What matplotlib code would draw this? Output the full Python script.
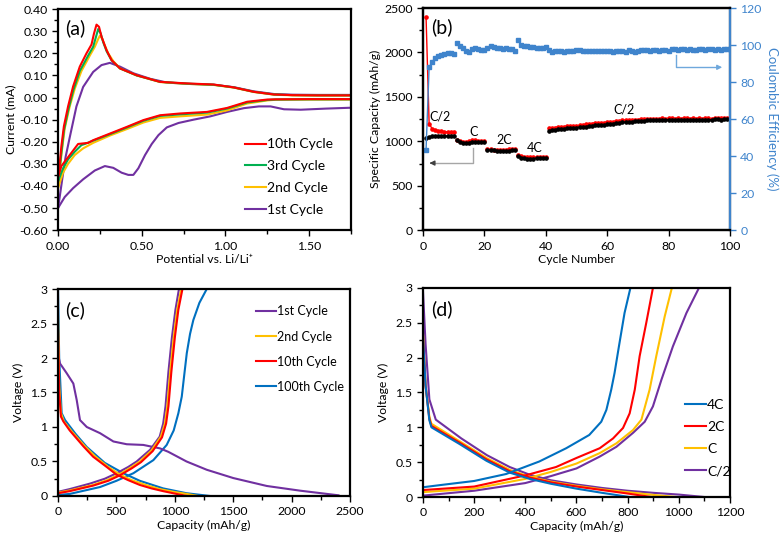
import numpy as np
import matplotlib
matplotlib.use('Agg')
import matplotlib.pyplot as plt
from matplotlib.ticker import MultipleLocator, FormatStrFormatter

plt.rcParams['font.family'] = ['Lato', 'DejaVu Sans']
plt.rcParams['axes.unicode_minus'] = False
plt.rcParams['font.size'] = 8

RED = '#FF0000'
GREEN = '#00B050'
YELLOW = '#FFC000'
PURPLE = '#7030A0'
BLUE = '#0070C0'
CEBLUE = '#3F84CC'

# ---------------- (a) cyclic voltammetry ----------------
cv10_up_x = [0, 0.01, 0.02, 0.035, 0.06, 0.09, 0.13, 0.17, 0.20, 0.215, 0.23, 0.245, 0.26, 0.29, 0.32, 0.37, 0.47, 0.61, 0.77, 0.93, 1.05, 1.17, 1.29, 1.40, 1.55, 1.75]
cv10_up_y = [-0.36, -0.30, -0.22, -0.13, -0.04, 0.05, 0.14, 0.20, 0.24, 0.29, 0.33, 0.32, 0.275, 0.214, 0.169, 0.132, 0.101, 0.071, 0.064, 0.059, 0.046, 0.026, 0.014, 0.011, 0.010, 0.010]
cv10_dn_x = [1.75, 1.5, 1.30, 1.25, 1.13, 1.01, 0.89, 0.73, 0.61, 0.51, 0.41, 0.31, 0.21, 0.18, 0.12, 0.08, 0.04, 0.02, 0.0]
cv10_dn_y = [-0.007, -0.007, -0.008, -0.009, -0.019, -0.047, -0.065, -0.072, -0.08, -0.102, -0.133, -0.163, -0.193, -0.205, -0.21, -0.25, -0.29, -0.31, -0.36]

cv3_up_x = [0, 0.01, 0.02, 0.035, 0.06, 0.09, 0.13, 0.18, 0.21, 0.225, 0.24, 0.255, 0.27, 0.29, 0.32, 0.37, 0.47, 0.61, 0.77, 0.93, 1.05, 1.17, 1.29, 1.40, 1.55, 1.75]
cv3_up_y = [-0.38, -0.32, -0.25, -0.15, -0.06, 0.03, 0.12, 0.19, 0.23, 0.27, 0.31, 0.29, 0.25, 0.21, 0.168, 0.132, 0.10, 0.071, 0.063, 0.058, 0.046, 0.026, 0.014, 0.011, 0.010, 0.010]
cv3_dn_x = [1.75, 1.5, 1.30, 1.25, 1.13, 1.01, 0.89, 0.73, 0.61, 0.51, 0.41, 0.31, 0.21, 0.16, 0.14, 0.10, 0.06, 0.03, 0.0]
cv3_dn_y = [-0.008, -0.008, -0.009, -0.011, -0.022, -0.05, -0.068, -0.076, -0.083, -0.105, -0.136, -0.166, -0.195, -0.21, -0.215, -0.245, -0.28, -0.32, -0.38]

cv2_up_x = [0, 0.01, 0.02, 0.04, 0.07, 0.10, 0.14, 0.19, 0.22, 0.24, 0.25, 0.265, 0.28, 0.30, 0.33, 0.37, 0.47, 0.61, 0.77, 0.93, 1.05, 1.17, 1.29, 1.40, 1.55, 1.75]
cv2_up_y = [-0.41, -0.34, -0.26, -0.14, -0.04, 0.04, 0.12, 0.19, 0.23, 0.265, 0.28, 0.265, 0.235, 0.20, 0.165, 0.132, 0.10, 0.07, 0.062, 0.057, 0.045, 0.025, 0.013, 0.010, 0.009, 0.009]
cv2_dn_x = [1.75, 1.5, 1.30, 1.25, 1.13, 1.01, 0.89, 0.73, 0.61, 0.51, 0.41, 0.31, 0.21, 0.15, 0.10, 0.06, 0.03, 0.0]
cv2_dn_y = [-0.009, -0.009, -0.01, -0.013, -0.027, -0.058, -0.077, -0.085, -0.092, -0.113, -0.143, -0.172, -0.205, -0.23, -0.26, -0.30, -0.34, -0.41]

cv1_up_x = [0, 0.01, 0.025, 0.045, 0.07, 0.09, 0.11, 0.15, 0.21, 0.26, 0.31, 0.37, 0.45, 0.55, 0.65, 0.77, 0.93, 1.05, 1.17, 1.29, 1.40, 1.55, 1.75]
cv1_up_y = [-0.50, -0.45, -0.37, -0.27, -0.18, -0.11, -0.04, 0.048, 0.116, 0.147, 0.157, 0.14, 0.11, 0.085, 0.068, 0.062, 0.058, 0.047, 0.028, 0.016, 0.013, 0.012, 0.012]
cv1_dn_x = [1.75, 1.6, 1.45, 1.35, 1.27, 1.2, 1.11, 1.01, 0.91, 0.81, 0.72, 0.65, 0.60, 0.56, 0.52, 0.48, 0.45, 0.42, 0.38, 0.33, 0.28, 0.22, 0.15, 0.09, 0.04, 0.0]
cv1_dn_y = [-0.046, -0.05, -0.055, -0.053, -0.04, -0.04, -0.048, -0.065, -0.085, -0.10, -0.115, -0.135, -0.17, -0.21, -0.26, -0.32, -0.35, -0.35, -0.34, -0.318, -0.31, -0.33, -0.37, -0.41, -0.45, -0.50]

# ---------------- (b) cycling ----------------
cycle = list(range(1, 101))
cap_dis = [2400, 1200, 1140, 1130, 1120, 1115, 1110, 1105, 1105, 1110,
           1020, 1000, 995, 990, 1000, 1010, 1015, 1005, 1000, 1000,
           915, 910, 905, 905, 905, 905, 905, 910, 910, 915,
           850, 830, 825, 820, 820, 820, 820, 820, 820, 825,
           1145, 1150, 1155, 1160, 1160, 1165, 1170, 1170, 1175, 1175,
           1180, 1185, 1190, 1195, 1200, 1205, 1205, 1210, 1210, 1215,
           1215, 1220, 1225, 1230, 1235, 1240, 1240, 1240, 1245, 1245,
           1250, 1250, 1250, 1250, 1255, 1255, 1255, 1260, 1255, 1260,
           1260, 1255, 1260, 1255, 1260, 1260, 1255, 1260, 1255, 1260,
           1255, 1260, 1260, 1255, 1265, 1265, 1260, 1265, 1265, 1265]
cap_chg = [1040, 1050, 1060, 1055, 1055, 1055, 1060, 1060, 1060, 1065,
           1010, 990, 985, 980, 985, 995, 995, 995, 990, 990,
           905, 900, 900, 895, 895, 895, 895, 895, 900, 905,
           835, 815, 810, 805, 805, 805, 810, 810, 810, 815,
           1120, 1125, 1130, 1135, 1140, 1140, 1145, 1150, 1150, 1155,
           1160, 1160, 1165, 1170, 1175, 1180, 1180, 1185, 1185, 1190,
           1195, 1200, 1205, 1210, 1215, 1215, 1220, 1220, 1225, 1225,
           1230, 1230, 1235, 1235, 1235, 1240, 1240, 1240, 1240, 1245,
           1245, 1240, 1245, 1245, 1240, 1245, 1240, 1245, 1240, 1245,
           1240, 1245, 1245, 1240, 1250, 1250, 1245, 1250, 1250, 1250]
ce = [43.5, 88, 91, 93, 94, 94.5, 95, 95.5, 95.5, 95,
      101, 99.5, 98.5, 97, 96.5, 98, 98.5, 98, 97.5, 97.5,
      98.5, 99.5, 99, 98.5, 98.5, 98, 98.5, 98, 98, 97,
      102.5, 100, 99.5, 99.5, 99, 99, 98.5, 98.5, 98.5, 99,
      97.5, 96.5, 97, 97, 97, 96.5, 97, 97, 97, 97.5,
      97.5, 97, 97, 97, 97, 97, 97, 97, 97, 97,
      97, 96.5, 97, 97, 97, 96.5, 97.5, 97, 96.5, 97,
      97.5, 97.5, 97.5, 97, 97.5, 97.5, 97, 97.5, 97.5, 97,
      98, 98, 97.5, 98, 98, 97.5, 98, 97.5, 97.5, 98,
      98, 97.5, 98, 98, 97.5, 98, 97.5, 98, 98, 98]
rate_segments = [(0, 10), (10, 20), (20, 30), (30, 40), (40, 100)]
rate_labels = ['C/2', 'C', '2C', '4C', 'C/2']
rate_label_pos = [(5.5, 1280), (16.4, 1105), (26.5, 1020), (36.5, 920), (65.5, 1360)]

# ---------------- (c) voltage profiles by cycle ----------------
c1_dis_cap = [0, 17, 74, 131, 160, 188, 246, 360, 474, 588, 730, 873, 944, 1100, 1273, 1500, 1787, 2072, 2400]
c1_dis_v = [2.05, 1.92, 1.78, 1.63, 1.39, 1.10, 1.0, 0.91, 0.79, 0.75, 0.74, 0.69, 0.64, 0.50, 0.38, 0.26, 0.145, 0.077, 0.01]
c1_chg_cap = [0, 100, 274, 400, 502, 600, 673, 788, 870, 900, 920, 945, 975, 1005, 1035]
c1_chg_v = [0.06, 0.10, 0.18, 0.25, 0.33, 0.42, 0.50, 0.67, 0.86, 1.05, 1.3, 1.8, 2.3, 2.7, 3.0]
c2_dis_cap = [0, 10, 25, 50, 120, 230, 320, 430, 530, 630, 750, 870, 990, 1100, 1200]
c2_dis_v = [2.6, 1.6, 1.2, 1.08, 0.93, 0.72, 0.57, 0.42, 0.31, 0.23, 0.16, 0.10, 0.06, 0.03, 0.0]
c2_chg_cap = [0, 100, 300, 420, 520, 620, 700, 800, 880, 915, 935, 960, 990, 1020, 1055]
c2_chg_v = [0.05, 0.08, 0.16, 0.23, 0.31, 0.41, 0.50, 0.66, 0.86, 1.05, 1.3, 1.8, 2.3, 2.7, 3.0]
c10_dis_cap = [0, 10, 25, 46, 100, 217, 300, 417, 500, 600, 700, 800, 900, 1000, 1100]
c10_dis_v = [2.4, 1.5, 1.15, 1.08, 0.95, 0.72, 0.57, 0.42, 0.31, 0.23, 0.16, 0.11, 0.07, 0.035, 0.0]
c10_chg_cap = [0, 100, 300, 430, 530, 630, 710, 810, 890, 925, 945, 970, 1000, 1030, 1065]
c10_chg_v = [0.04, 0.07, 0.15, 0.22, 0.30, 0.40, 0.49, 0.65, 0.85, 1.05, 1.3, 1.8, 2.3, 2.7, 3.0]
c100_dis_cap = [0, 10, 31, 60, 150, 246, 400, 559, 700, 900, 1100, 1300]
c100_dis_v = [3.0, 2.0, 1.2, 1.10, 0.90, 0.71, 0.48, 0.33, 0.22, 0.11, 0.04, 0.0]
c100_chg_cap = [0, 100, 360, 500, 645, 816, 930, 990, 1030, 1059, 1080, 1102, 1130, 1158, 1210, 1273]
c100_chg_v = [0.015, 0.03, 0.13, 0.22, 0.33, 0.52, 0.74, 0.95, 1.2, 1.44, 1.75, 2.07, 2.35, 2.55, 2.8, 3.0]

# ---------------- (d) voltage profiles by rate ----------------
r4_dis_cap = [0, 10, 25, 33, 143, 248, 339, 417, 500, 600, 700, 808]
r4_dis_v = [2.3, 1.6, 1.1, 1.0, 0.76, 0.52, 0.35, 0.26, 0.19, 0.12, 0.06, 0.0]
r4_chg_cap = [0, 65, 200, 325, 455, 560, 650, 697, 717, 736, 749, 766, 788, 811]
r4_chg_v = [0.14, 0.17, 0.23, 0.33, 0.51, 0.70, 0.89, 1.08, 1.25, 1.54, 1.78, 2.16, 2.64, 3.0]
r2_dis_cap = [0, 10, 25, 33, 143, 248, 339, 417, 500, 600, 700, 800, 893]
r2_dis_v = [2.3, 1.6, 1.12, 1.02, 0.78, 0.54, 0.37, 0.28, 0.21, 0.15, 0.10, 0.05, 0.0]
r2_chg_cap = [0, 200, 400, 520, 600, 691, 743, 782, 808, 828, 847, 873, 899]
r2_chg_v = [0.10, 0.15, 0.31, 0.43, 0.56, 0.70, 0.84, 0.99, 1.2, 1.54, 2.02, 2.5, 3.0]
r1_dis_cap = [0, 10, 25, 33, 143, 248, 339, 417, 500, 600, 700, 800, 900, 990]
r1_dis_v = [2.35, 1.6, 1.15, 1.05, 0.80, 0.56, 0.39, 0.29, 0.22, 0.16, 0.11, 0.07, 0.03, 0.0]
r1_chg_cap = [0, 200, 400, 500, 600, 691, 756, 821, 854, 886, 912, 945, 973]
r1_chg_v = [0.07, 0.12, 0.26, 0.36, 0.48, 0.63, 0.77, 0.96, 1.11, 1.54, 2.02, 2.59, 3.0]
rh_dis_cap = [0, 10, 25, 50, 150, 250, 339, 417, 500, 600, 700, 800, 900, 1000, 1100]
rh_dis_v = [2.95, 2.2, 1.4, 1.11, 0.84, 0.60, 0.43, 0.32, 0.24, 0.18, 0.13, 0.09, 0.06, 0.035, 0.0]
rh_chg_cap = [0, 200, 400, 500, 600, 691, 756, 821, 867, 899, 932, 977, 1030, 1079]
rh_chg_v = [0.02, 0.09, 0.20, 0.30, 0.41, 0.58, 0.72, 0.92, 1.08, 1.3, 1.68, 2.16, 2.64, 3.0]


fig = plt.figure(figsize=(7.81, 5.39), dpi=100)

TICK = 8.8
LAB = 8.8


def frame(ax, lw=1.6):
    for s in ax.spines.values():
        s.set_linewidth(lw)
        s.set_color('black')
    ax.tick_params(which='major', direction='out', length=4, width=1, labelsize=TICK)
    ax.tick_params(which='minor', direction='out', length=3, width=1)


# (a)
axA = fig.add_axes([0.0743, 0.573, 0.375, 0.410])
lw = 1.5
axA.plot(cv1_up_x, cv1_up_y, color=PURPLE, lw=lw)
axA.plot(cv1_dn_x, cv1_dn_y, color=PURPLE, lw=lw)
axA.plot(cv2_up_x, cv2_up_y, color=YELLOW, lw=lw)
axA.plot(cv2_dn_x, cv2_dn_y, color=YELLOW, lw=lw)
axA.plot(cv3_up_x, cv3_up_y, color=GREEN, lw=lw)
axA.plot(cv3_dn_x, cv3_dn_y, color=GREEN, lw=lw)
axA.plot(cv10_up_x, cv10_up_y, color=RED, lw=lw)
axA.plot(cv10_dn_x, cv10_dn_y, color=RED, lw=lw)
hA = [plt.Line2D([], [], color=c, lw=lw) for c in [RED, GREEN, YELLOW, PURPLE]]
axA.legend(hA, ['10th Cycle', '3rd Cycle', '2nd Cycle', '1st Cycle'], frameon=False,
           fontsize=10, loc='upper left', bbox_to_anchor=(0.62, 0.44), handlelength=1.5,
           handletextpad=0.1, labelspacing=0.7, borderaxespad=0)
axA.set_xlim(0, 1.75)
axA.set_ylim(-0.6, 0.4)
axA.xaxis.set_major_locator(MultipleLocator(0.5))
axA.xaxis.set_minor_locator(MultipleLocator(0.25))
axA.yaxis.set_major_locator(MultipleLocator(0.1))
axA.yaxis.set_minor_locator(MultipleLocator(0.05))
axA.xaxis.set_major_formatter(FormatStrFormatter('%.2f'))
axA.yaxis.set_major_formatter(FormatStrFormatter('%.2f'))
axA.set_xlabel('Potential vs. Li/Li\u207a', fontsize=LAB, labelpad=2)
axA.set_ylabel('Current (mA)', fontsize=LAB, labelpad=2)
axA.text(0.025, 0.915, '(a)', transform=axA.transAxes, fontsize=14, va='center')
frame(axA)

# (b)
axB = fig.add_axes([0.5416, 0.573, 0.393, 0.412])
axB2 = axB.twinx()
for s0, s1 in rate_segments:
    axB.plot(cycle[s0:s1], cap_dis[s0:s1], color=RED, marker='o', ms=2.3, lw=1, zorder=3)
    axB.plot(cycle[s0:s1], cap_chg[s0:s1], color='black', marker='o', ms=2.3, lw=1, zorder=4)
    axB2.plot(cycle[s0:s1], ce[s0:s1], color=CEBLUE, marker='s', ms=2.3, lw=1)
for lab, (px, py) in zip(rate_labels, rate_label_pos):
    axB.text(px, py, lab, ha='center', va='center', fontsize=9)
# arrows
axB.plot([16.2, 16.2, 3.5], [925, 755, 755], color='#A6A6A6', lw=1)
axB.annotate('', xy=(1.2, 755), xytext=(4, 755),
             arrowprops=dict(arrowstyle='-|>', color='#404040', lw=1, mutation_scale=7))
axB2.plot([82.4, 82.4, 95.5], [94.5, 88, 88], color='#6FA8DC', lw=1)
axB2.annotate('', xy=(98.4, 88), xytext=(95, 88),
              arrowprops=dict(arrowstyle='-|>', color='#6FA8DC', lw=1, mutation_scale=7))
axB.set_xlim(0, 100)
axB.set_ylim(0, 2500)
axB2.set_ylim(0, 120)
axB.xaxis.set_major_locator(MultipleLocator(20))
axB.yaxis.set_major_locator(MultipleLocator(500))
axB.yaxis.set_minor_locator(MultipleLocator(250))
axB2.yaxis.set_major_locator(MultipleLocator(20))
axB.set_xlabel('Cycle Number', fontsize=LAB, labelpad=2)
axB.set_ylabel('Specific Capacity (mAh/g)', fontsize=LAB, labelpad=2)
axB2.set_ylabel('Coulombic Efficiency (%)', fontsize=9.5, color=CEBLUE, rotation=270, labelpad=12)
axB.text(0.025, 0.915, '(b)', transform=axB.transAxes, fontsize=14, va='center')
frame(axB)
frame(axB2)
axB2.spines['right'].set_color(CEBLUE)
axB2.tick_params(axis='y', colors=CEBLUE, labelsize=TICK)
axB2.tick_params(axis='y', labelcolor=CEBLUE)

# (c)
axC = fig.add_axes([0.0743, 0.0798, 0.374, 0.384])
axC.plot(c100_dis_cap, c100_dis_v, color=BLUE, lw=lw)
axC.plot(c100_chg_cap, c100_chg_v, color=BLUE, lw=lw)
axC.plot(c1_dis_cap, c1_dis_v, color=PURPLE, lw=lw)
axC.plot(c1_chg_cap, c1_chg_v, color=PURPLE, lw=lw)
axC.plot(c2_dis_cap, c2_dis_v, color=YELLOW, lw=lw)
axC.plot(c2_chg_cap, c2_chg_v, color=YELLOW, lw=lw)
axC.plot(c10_dis_cap, c10_dis_v, color=RED, lw=lw)
axC.plot(c10_chg_cap, c10_chg_v, color=RED, lw=lw)
hC = [plt.Line2D([], [], color=c, lw=lw) for c in [PURPLE, YELLOW, RED, BLUE]]
axC.legend(hC, ['1st Cycle', '2nd Cycle', '10th Cycle', '100th Cycle'], frameon=False,
           fontsize=9, loc='upper left', bbox_to_anchor=(0.66, 0.945), handlelength=1.6,
           handletextpad=0.1, labelspacing=1.05, borderaxespad=0)
axC.set_xlim(0, 2500)
axC.set_ylim(0, 3)
axC.xaxis.set_major_locator(MultipleLocator(500))
axC.xaxis.set_minor_locator(MultipleLocator(250))
axC.yaxis.set_major_locator(MultipleLocator(0.5))
axC.yaxis.set_minor_locator(MultipleLocator(0.25))
axC.yaxis.set_major_formatter(plt.FuncFormatter(lambda v, p: '%g' % v))
axC.set_xlabel('Capacity (mAh/g)', fontsize=LAB, labelpad=2)
axC.set_ylabel('Voltage (V)', fontsize=LAB, labelpad=5)
axC.text(0.025, 0.9, '(c)', transform=axC.transAxes, fontsize=14, va='center')
frame(axC)

# (d)
axD = fig.add_axes([0.5416, 0.0779, 0.393, 0.388])
axD.plot(rh_dis_cap, rh_dis_v, color=PURPLE, lw=lw)
axD.plot(rh_chg_cap, rh_chg_v, color=PURPLE, lw=lw)
axD.plot(r1_dis_cap, r1_dis_v, color=YELLOW, lw=lw)
axD.plot(r1_chg_cap, r1_chg_v, color=YELLOW, lw=lw)
axD.plot(r2_dis_cap, r2_dis_v, color=RED, lw=lw)
axD.plot(r2_chg_cap, r2_chg_v, color=RED, lw=lw)
axD.plot(r4_dis_cap, r4_dis_v, color=BLUE, lw=lw)
axD.plot(r4_chg_cap, r4_chg_v, color=BLUE, lw=lw)
hD = [plt.Line2D([], [], color=c, lw=lw) for c in [BLUE, RED, YELLOW, PURPLE]]
axD.legend(hD, ['4C', '2C', 'C', 'C/2'], frameon=False,
           fontsize=10, loc='upper left', bbox_to_anchor=(0.835, 0.495), handlelength=1.5,
           handletextpad=0.1, labelspacing=0.72, borderaxespad=0)
axD.set_xlim(0, 1200)
axD.set_ylim(0, 3)
axD.xaxis.set_major_locator(MultipleLocator(200))
axD.xaxis.set_minor_locator(MultipleLocator(100))
axD.yaxis.set_major_locator(MultipleLocator(0.5))
axD.yaxis.set_minor_locator(MultipleLocator(0.25))
axD.yaxis.set_major_formatter(plt.FuncFormatter(lambda v, p: '%g' % v))
axD.set_xlabel('Capacity (mAh/g)', fontsize=LAB, labelpad=2)
axD.set_ylabel('Voltage (V)', fontsize=LAB, labelpad=5)
axD.text(0.025, 0.9, '(d)', transform=axD.transAxes, fontsize=14, va='center')
frame(axD)

fig.savefig('out.png', dpi=100)
